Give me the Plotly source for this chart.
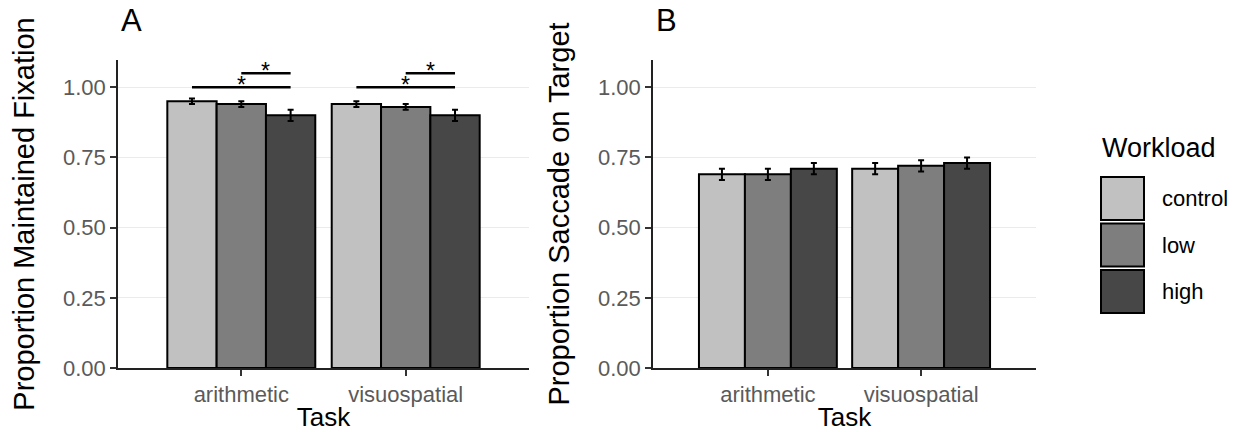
import plotly.graph_objects as go
from plotly.subplots import make_subplots

# ---------------- data ----------------
tasks = ["arithmetic", "visuospatial"]
workload = ["control", "low", "high"]

fix_control = [0.95, 0.94]
fix_low = [0.94, 0.93]
fix_high = [0.90, 0.90]
fix_control_se = [0.01, 0.01]
fix_low_se = [0.01, 0.01]
fix_high_se = [0.02, 0.02]

sac_control = [0.69, 0.71]
sac_low = [0.69, 0.72]
sac_high = [0.71, 0.73]
sac_control_se = [0.02, 0.02]
sac_low_se = [0.02, 0.02]
sac_high_se = [0.02, 0.02]

# significance brackets (panel A): from group, to group, height
sig_from = ["control", "low"]
sig_to = ["high", "high"]
sig_y = [1.00, 1.05]
sig_label = ["*", "*"]

y_ticks = [0.0, 0.25, 0.5, 0.75, 1.0]
colors = ["#C1C1C1", "#7E7E7E", "#474747"]

# ---------------- layout constants ----------------
W, H = 1242, 432
ML, MR, MT, MB = 118, 206, 60, 64
PW = W - ML - MR
PH = H - MT - MB
FONT = "Liberation Sans, Arial, Helvetica, sans-serif"
TICK_COLOR = "#5A5A5A"


def px_x(px):
    return (px - ML) / PW


def px_y(py):
    return (H - MB - py) / PH


fig = make_subplots(rows=1, cols=2, horizontal_spacing=0.1)

x_num = [i + 1 for i in range(len(tasks))]
fix_means = [fix_control, fix_low, fix_high]
fix_ses = [fix_control_se, fix_low_se, fix_high_se]
sac_means = [sac_control, sac_low, sac_high]
sac_ses = [sac_control_se, sac_low_se, sac_high_se]

for col, means, ses in [(1, fix_means, fix_ses), (2, sac_means, sac_ses)]:
    for i, w in enumerate(workload):
        fig.add_trace(
            go.Bar(
                x=x_num, y=means[i], name=w, offsetgroup=w,
                marker=dict(color=colors[i], line=dict(color="black", width=2)),
                error_y=dict(type="data", array=ses[i], color="black",
                             thickness=2, width=3),
                showlegend=False,
            ),
            row=1, col=col,
        )

fig.update_layout(barmode="group", bargap=0.1, bargroupgap=0)

# significance brackets on panel A
bar_w = 0.9 / len(workload)
for t in x_num:
    for f, to, yv, lab in zip(sig_from, sig_to, sig_y, sig_label):
        x0 = t + (workload.index(f) - 1) * bar_w
        x1 = t + (workload.index(to) - 1) * bar_w
        fig.add_shape(type="line", x0=x0, x1=x1, y0=yv, y1=yv,
                      xref="x", yref="y", line=dict(color="black", width=2.5))
        fig.add_annotation(x=(x0 + x1) / 2, y=yv, xref="x", yref="y",
                           text=lab, showarrow=False, yanchor="middle",
                           yshift=2,
                           font=dict(family=FONT, size=23, color="black"))

# domains
fig.update_xaxes(domain=[0, px_x(529)], row=1, col=1)
fig.update_xaxes(domain=[px_x(653), 1], row=1, col=2)

for col in (1, 2):
    fig.update_xaxes(
        range=[0.25, 2.75], tickmode="array", tickvals=x_num, ticktext=tasks,
        showgrid=False, zeroline=False, automargin=False,
        showline=True, linecolor="#222222", linewidth=1.5,
        ticks="outside", ticklen=6, tickwidth=1.5, tickcolor="#333333",
        tickfont=dict(family=FONT, size=22, color=TICK_COLOR),
        title=dict(text="Task", font=dict(family=FONT, size=26, color="black"),
                   standoff=9),
        row=1, col=col,
    )
    fig.update_yaxes(
        range=[0, 1.097], tickmode="array", tickvals=y_ticks, tickformat=".2f",
        showgrid=True, gridcolor="#EBEBEB", gridwidth=1.2, zeroline=False,
        automargin=False,
        showline=True, linecolor="#222222", linewidth=1.5,
        ticks="outside", ticklen=6, tickwidth=1.5, tickcolor="#333333",
        tickfont=dict(family=FONT, size=22, color=TICK_COLOR),
        row=1, col=col,
    )

fig.update_yaxes(title=dict(text="Proportion Maintained Fixation",
                            font=dict(family=FONT, size=29, color="black"),
                            standoff=20), row=1, col=1)
fig.update_yaxes(title=dict(text="Proportion Saccade on Target",
                            font=dict(family=FONT, size=29, color="black"),
                            standoff=20), row=1, col=2)

# panel letters
for lab, px in [("A", 119), ("B", 654)]:
    fig.add_annotation(x=px_x(px), y=px_y(40), xref="paper", yref="paper",
                       text=lab, showarrow=False, xanchor="left",
                       yanchor="bottom",
                       font=dict(family=FONT, size=31, color="black"))

# manual legend
fig.add_annotation(x=px_x(1100), y=px_y(148), xref="paper", yref="paper",
                   text="Workload", showarrow=False, xanchor="left",
                   yanchor="middle",
                   font=dict(family=FONT, size=27, color="black"))
key_top, key_size, key_step = 177, 43, 46.5
for i, w in enumerate(workload):
    top = key_top + i * key_step
    fig.add_shape(type="rect", xref="paper", yref="paper",
                  x0=px_x(1101), x1=px_x(1101 + key_size),
                  y0=px_y(top), y1=px_y(top + key_size),
                  fillcolor=colors[i], line=dict(color="black", width=2))
    fig.add_annotation(x=px_x(1160), y=px_y(top + key_size / 2),
                       xref="paper", yref="paper", text=w, showarrow=False,
                       xanchor="left", yanchor="middle",
                       font=dict(family=FONT, size=22, color="black"))

fig.update_layout(
    width=W, height=H,
    margin=dict(l=ML, r=MR, t=MT, b=MB),
    plot_bgcolor="white", paper_bgcolor="white",
    font=dict(family=FONT),
    showlegend=False,
)

fig.write_html("out.html")
